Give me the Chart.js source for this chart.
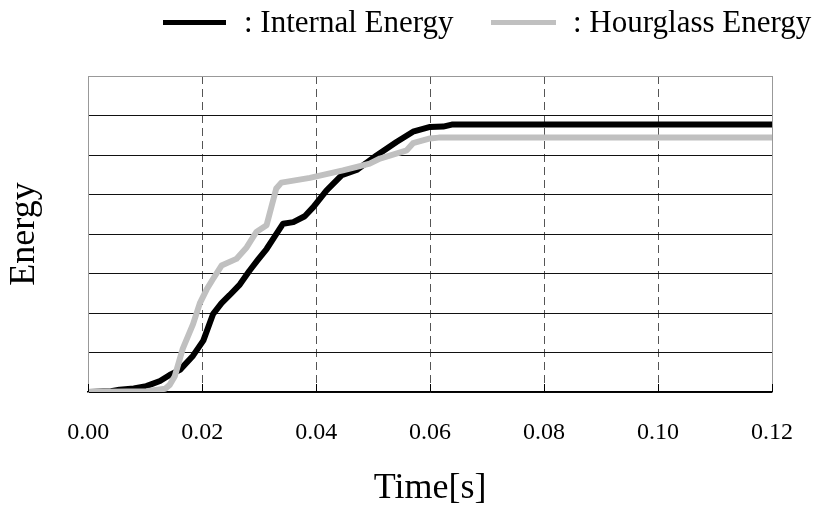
<!DOCTYPE html>
<html>
<head>
<meta charset="utf-8">
<script src="https://cdn.jsdelivr.net/npm/chart.js@4.4.0/dist/chart.umd.min.js"></script>
<style>
  html, body { margin: 0; padding: 0; background: #fff; }
  #wrap { width: 820px; height: 510px; }
</style>
</head>
<body>
<div id="wrap"><canvas id="energyChart" width="820" height="510"></canvas></div>
<script>
// --- Data ---
const internalTime = [0, 0.004, 0.0055, 0.008, 0.0102, 0.0126, 0.0143, 0.0161, 0.0184, 0.0202,
  0.0219, 0.0234, 0.0248, 0.0266, 0.0283, 0.0298, 0.0313, 0.0328, 0.0342, 0.036,
  0.038, 0.0395, 0.0418, 0.0445, 0.0471, 0.049, 0.0506, 0.0541, 0.057, 0.060,
  0.0623, 0.0638, 0.12];
const internalEnergy = [0, 0.02, 0.06, 0.09, 0.15, 0.28, 0.43, 0.56, 0.92, 1.30,
  1.97, 2.25, 2.45, 2.72, 3.07, 3.35, 3.62, 3.95, 4.26, 4.30,
  4.45, 4.68, 5.10, 5.49, 5.62, 5.82, 5.99, 6.33, 6.59, 6.71,
  6.72, 6.77, 6.77];

const hourglassTime = [0, 0.0102, 0.0135, 0.0143, 0.0152, 0.0166, 0.0184, 0.0196, 0.0208, 0.0219,
  0.0234, 0.026, 0.0278, 0.0295, 0.0313, 0.033, 0.0339, 0.0389, 0.0447, 0.0494,
  0.0512, 0.0559, 0.057, 0.060, 0.0615, 0.12];
const hourglassEnergy = [0, 0.02, 0.08, 0.18, 0.40, 1.10, 1.72, 2.25, 2.60, 2.86,
  3.20, 3.37, 3.66, 4.05, 4.22, 5.15, 5.30, 5.42, 5.61, 5.78,
  5.91, 6.12, 6.30, 6.42, 6.44, 6.44];

const seriesLabels = [": Internal Energy", ": Hourglass Energy"];
const xTicks = [0, 0.02, 0.04, 0.06, 0.08, 0.10, 0.12];

const serif = "'Liberation Serif', 'Times New Roman', serif";

function toPoints(xs, ys) {
  return xs.map((x, i) => ({ x: x, y: ys[i] }));
}

// --- Legend drawn at the top ---
const topLegend = {
  id: "topLegend",
  afterDraw(chart) {
    const ctx = chart.ctx;
    const items = [
      { lineFrom: 163, lineTo: 226, textX: 244 },
      { lineFrom: 491, lineTo: 556, textX: 573 }
    ];
    ctx.save();
    ctx.font = "31px " + serif;
    ctx.textBaseline = "alphabetic";
    chart.data.datasets.forEach((ds, i) => {
      const it = items[i];
      ctx.fillStyle = ds.borderColor;
      ctx.fillRect(it.lineFrom, 20, it.lineTo - it.lineFrom, 5);
      ctx.fillStyle = "#000";
      ctx.fillText(ds.label, it.textX, 32);
    });
    ctx.restore();
  }
};

// --- Inward tick marks on the time axis ---
const innerTicks = {
  id: "innerTicks",
  afterDraw(chart) {
    const ctx = chart.ctx;
    const xs = chart.scales.x;
    const bottom = chart.chartArea.bottom;
    ctx.save();
    ctx.strokeStyle = "#000";
    ctx.lineWidth = 1;
    xTicks.forEach(v => {
      const px = Math.round(xs.getPixelForValue(v)) + 0.5;
      ctx.beginPath();
      ctx.moveTo(px, bottom);
      ctx.lineTo(px, bottom - 8);
      ctx.stroke();
    });
    ctx.restore();
  }
};

const ctx = document.getElementById("energyChart").getContext("2d");
new Chart(ctx, {
  type: "line",
  data: {
    datasets: [
      {
        label: seriesLabels[0],
        data: toPoints(internalTime, internalEnergy),
        borderColor: "#000000",
        borderWidth: 6,
        pointRadius: 0,
        borderJoinStyle: "round",
        order: 1
      },
      {
        label: seriesLabels[1],
        data: toPoints(hourglassTime, hourglassEnergy),
        borderColor: "#c0c0c0",
        borderWidth: 6,
        pointRadius: 0,
        borderJoinStyle: "round",
        order: 0
      }
    ]
  },
  options: {
    responsive: false,
    animation: false,
    layout: { padding: { top: 76, right: 48, left: 0, bottom: 0 } },
    plugins: {
      legend: { display: false },
      tooltip: { enabled: false }
    },
    scales: {
      x: {
        type: "linear",
        min: 0,
        max: 0.12,
        afterBuildTicks: scale => { scale.ticks = xTicks.map(v => ({ value: v })); },
        ticks: {
          color: "#000",
          font: { family: serif, size: 24 },
          padding: 26,
          maxRotation: 0,
          callback: v => v.toFixed(2)
        },
        grid: {
          color: c => (c.tick && (c.tick.value === 0 || c.tick.value === 0.12)) ? "rgba(0,0,0,0)" : "#555",
          lineWidth: 1,
          drawTicks: false
        },
        border: { color: "#000", width: 1.5, dash: [8, 5] },
        title: {
          display: true,
          text: "Time[s]",
          color: "#000",
          font: { family: serif, size: 36 },
          padding: { top: -6, bottom: 0 }
        }
      },
      y: {
        min: 0,
        max: 8,
        ticks: { display: false, stepSize: 1 },
        grid: {
          color: c => (c.tick && c.tick.value === 8) ? "#999" : "#111",
          lineWidth: 1,
          drawTicks: false
        },
        border: { color: "#999", width: 1 },
        title: {
          display: true,
          text: "Energy",
          color: "#000",
          font: { family: serif, size: 36 },
          padding: { top: 3, bottom: 42 }
        }
      },
      yRight: {
        position: "right",
        min: 0,
        max: 8,
        ticks: { display: false },
        grid: { display: false, drawTicks: false },
        border: { display: true, color: "#999", width: 1 }
      }
    }
  },
  plugins: [topLegend, innerTicks]
});
</script>
</body>
</html>
